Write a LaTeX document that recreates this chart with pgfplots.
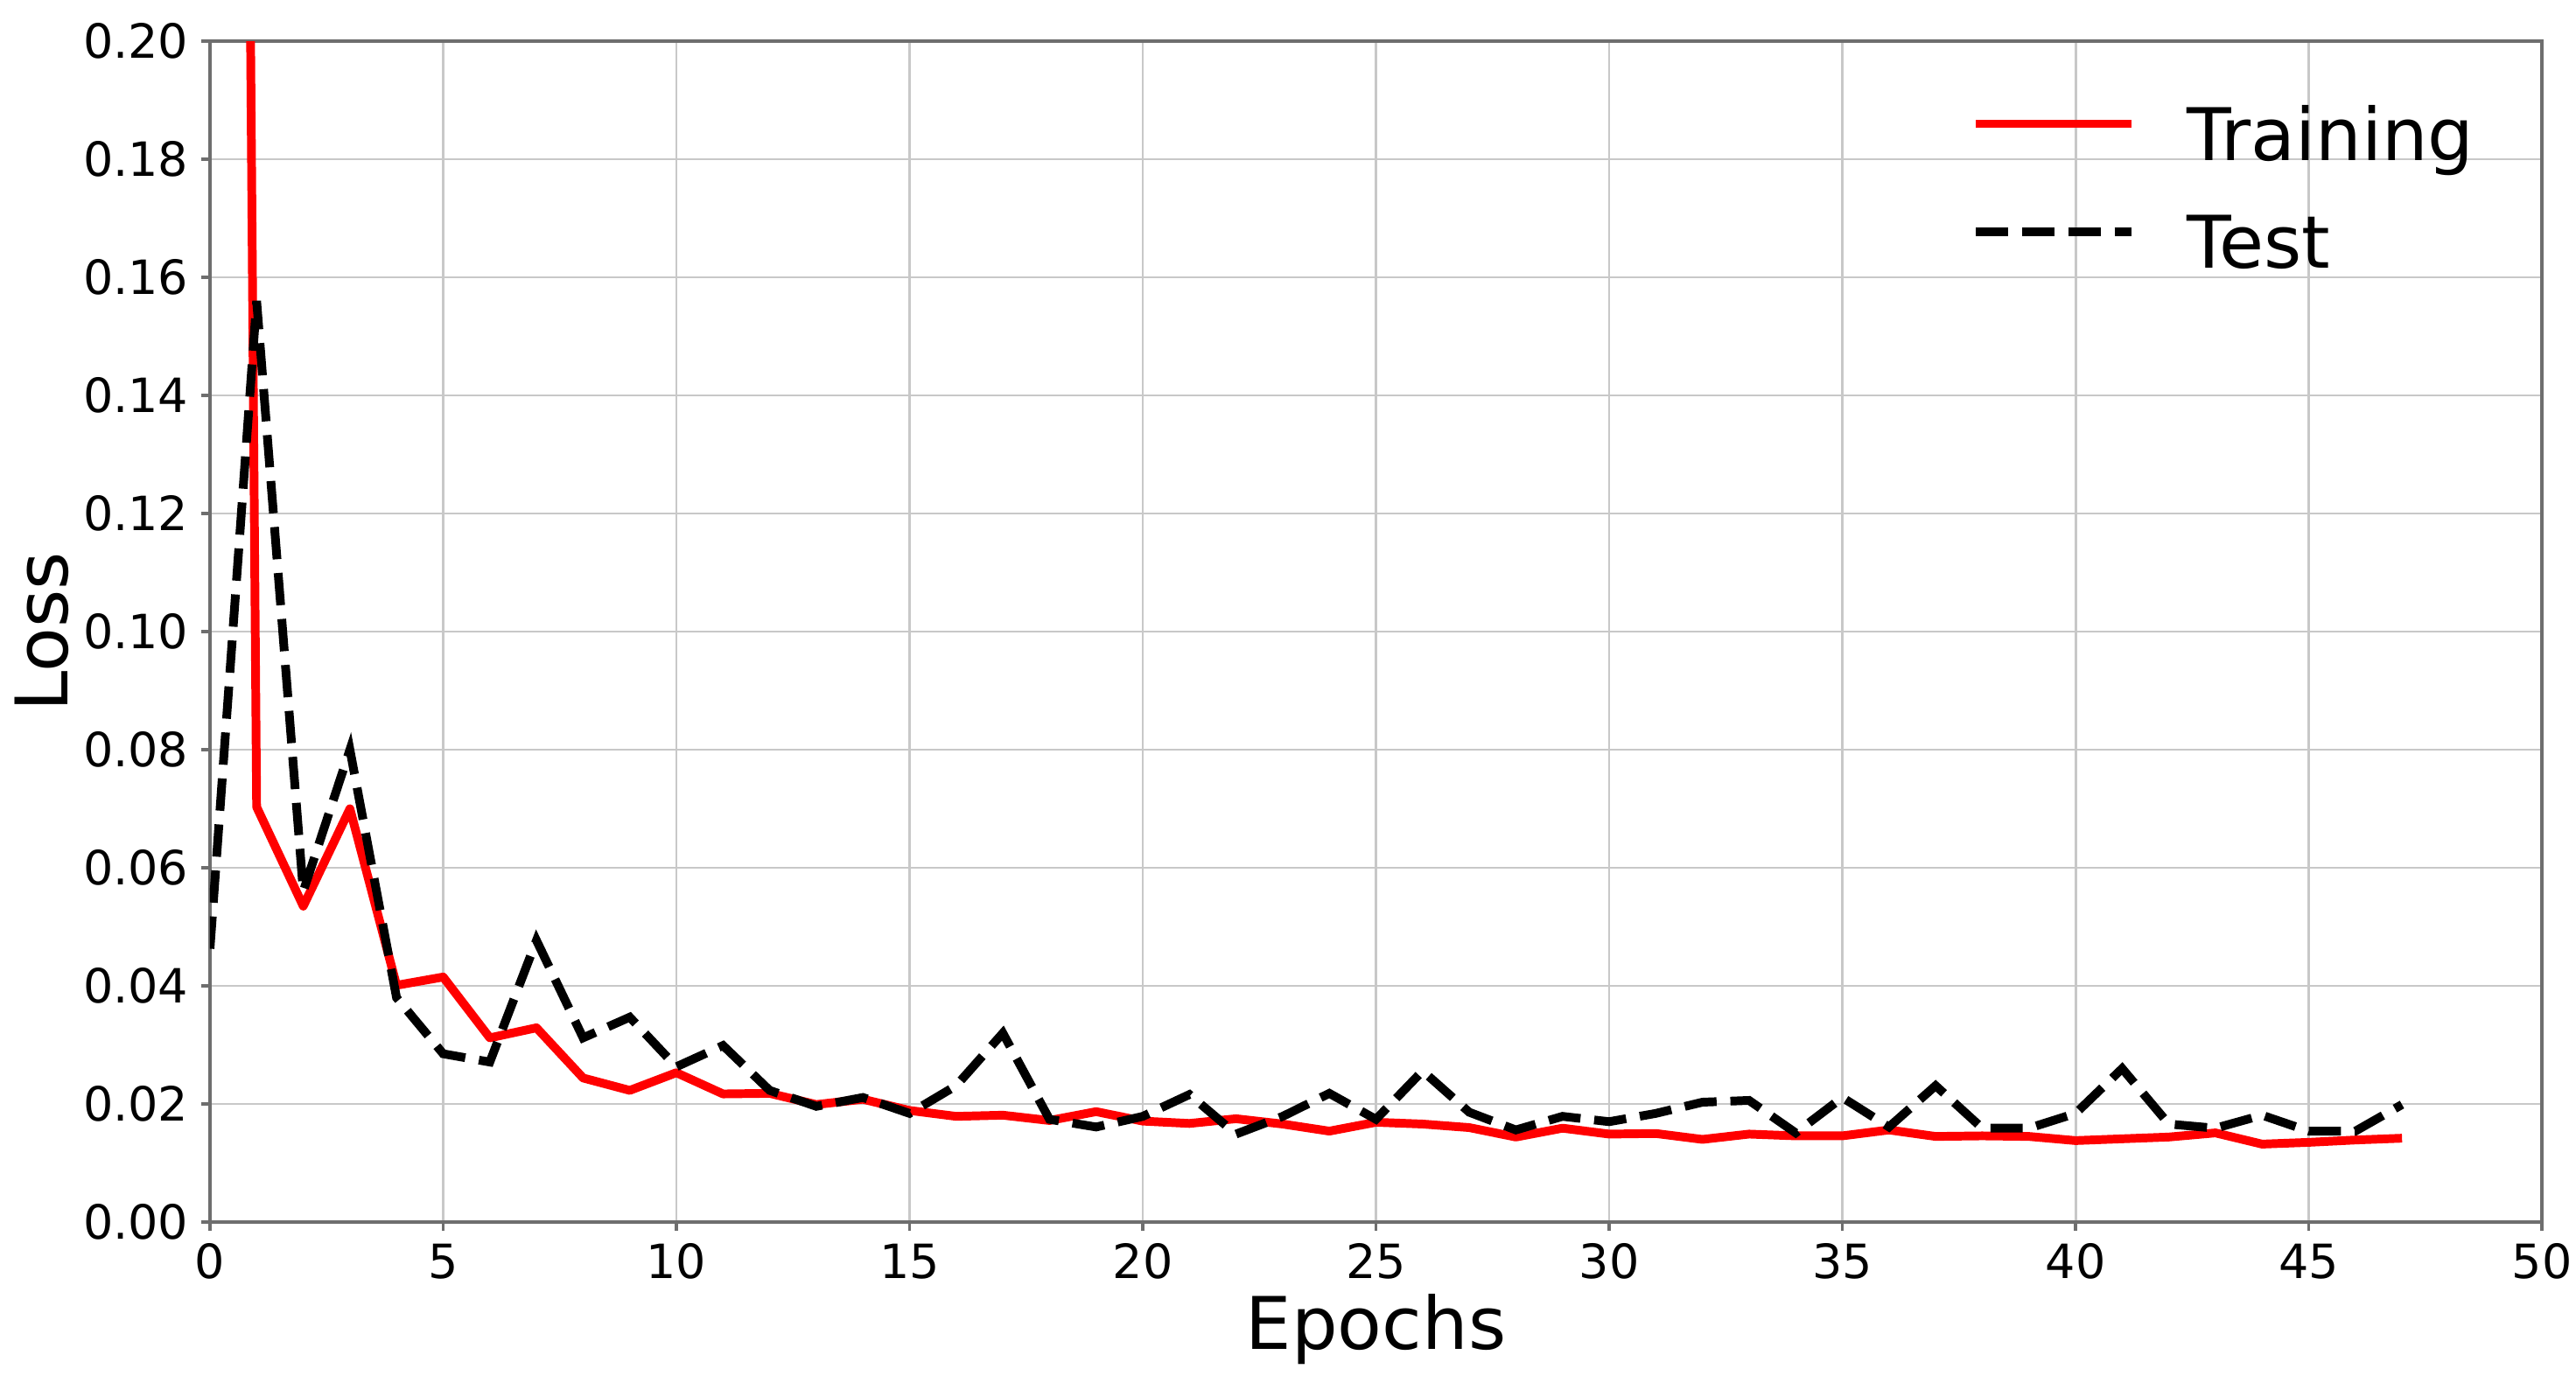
\documentclass[border=0pt]{standalone}
\usepackage{fontspec}
\setmainfont{DejaVu Sans}
\usepackage{pgfplots}
\pgfplotsset{compat=1.18}
\usetikzlibrary{calc}
\definecolor{spine}{RGB}{110,110,110}
\definecolor{gridc}{RGB}{200,200,200}

\pgfplotstableread{
epoch train test
0  1.07   0.0463
1  0.0703 0.156
2  0.0535 0.0560
3  0.0700 0.0800
4  0.0401 0.0380
5  0.0415 0.0285
6  0.0312 0.0271
7  0.0329 0.0477
8  0.0244 0.0312
9  0.0223 0.0347
10 0.0253 0.0263
11 0.0217 0.0299
12 0.0218 0.0223
13 0.0199 0.0196
14 0.0208 0.0211
15 0.0189 0.0184
16 0.0179 0.0231
17 0.0181 0.0320
18 0.0172 0.0174
19 0.0187 0.0161
20 0.0171 0.0179
21 0.0167 0.0216
22 0.0175 0.0149
23 0.0166 0.0179
24 0.0154 0.0218
25 0.0169 0.0174
26 0.0166 0.0256
27 0.0160 0.0186
28 0.0144 0.0156
29 0.0159 0.0179
30 0.0149 0.0170
31 0.0150 0.0184
32 0.0140 0.0203
33 0.0149 0.0206
34 0.0146 0.0151
35 0.0146 0.0211
36 0.0156 0.0161
37 0.0145 0.0231
38 0.0146 0.0159
39 0.0145 0.0159
40 0.0138 0.0184
41 0.0141 0.0260
42 0.0144 0.0166
43 0.0151 0.0159
44 0.0132 0.0181
45 0.0135 0.0154
46 0.0139 0.0154
47 0.0142 0.0199
}\losstable

\begin{document}
\begin{tikzpicture}
\begin{axis}[
  scale only axis,
  width=22.564cm, height=11.43cm,
  xmin=0, xmax=50, ymin=0, ymax=0.2,
  xtick={0,5,...,50},
  ytick={0,0.02,...,0.2},
  scaled y ticks=false,
  yticklabel style={/pgf/number format/.cd, fixed, fixed zerofill, precision=2},
  /pgf/number format/assume math mode=true,
  tick label style={font=\fontsize{13}{15.6}\selectfont, text=black},
  tick align=outside,
  major tick length=0.085cm,
  tick style={spine, line width=0.8pt},
  axis line style={spine, line width=1pt},
  grid=major,
  major grid style={gridc, line width=0.7pt},
  xtick pos=bottom, ytick pos=left,
  every axis x label/.style={at={(rel axis cs:0.5,0)}, anchor=center, yshift=-1.04cm},
  every axis y label/.style={at={(rel axis cs:0,0.5)}, anchor=center, xshift=-1.63cm, rotate=90},
  label style={font=\fontsize{20}{24}\selectfont},
  xlabel={Epochs},
  ylabel={Loss},
  legend style={draw=none, fill=none, inner sep=0pt,
    at={(rel axis cs:0.7552,0.946)}, anchor=north west,
    font=\fontsize{20}{24}\selectfont,
    nodes={inner sep=0pt, text height=15pt, text depth=5pt},
    row sep=9.8pt, column sep=0.5cm},
  legend cell align=left,
  legend image code/.code={\draw[#1] (0cm,5pt) -- (1.5cm,5pt);},
]
\addplot[red, line width=2.4pt, line join=round] table[x=epoch, y=train] {\losstable};
\addlegendentry{Training}
\addplot[black, line width=2.4pt, dash pattern=on 8.9pt off 3.8pt] table[x=epoch, y=test] {\losstable};
\addlegendentry{Test}
\end{axis}
\pgfresetboundingbox
\path[use as bounding box] ($(current axis.south west)+(-2.032cm,-1.617cm)$) rectangle ($(current axis.south west)+(22.894cm,11.828cm)$);
\end{tikzpicture}
\end{document}
